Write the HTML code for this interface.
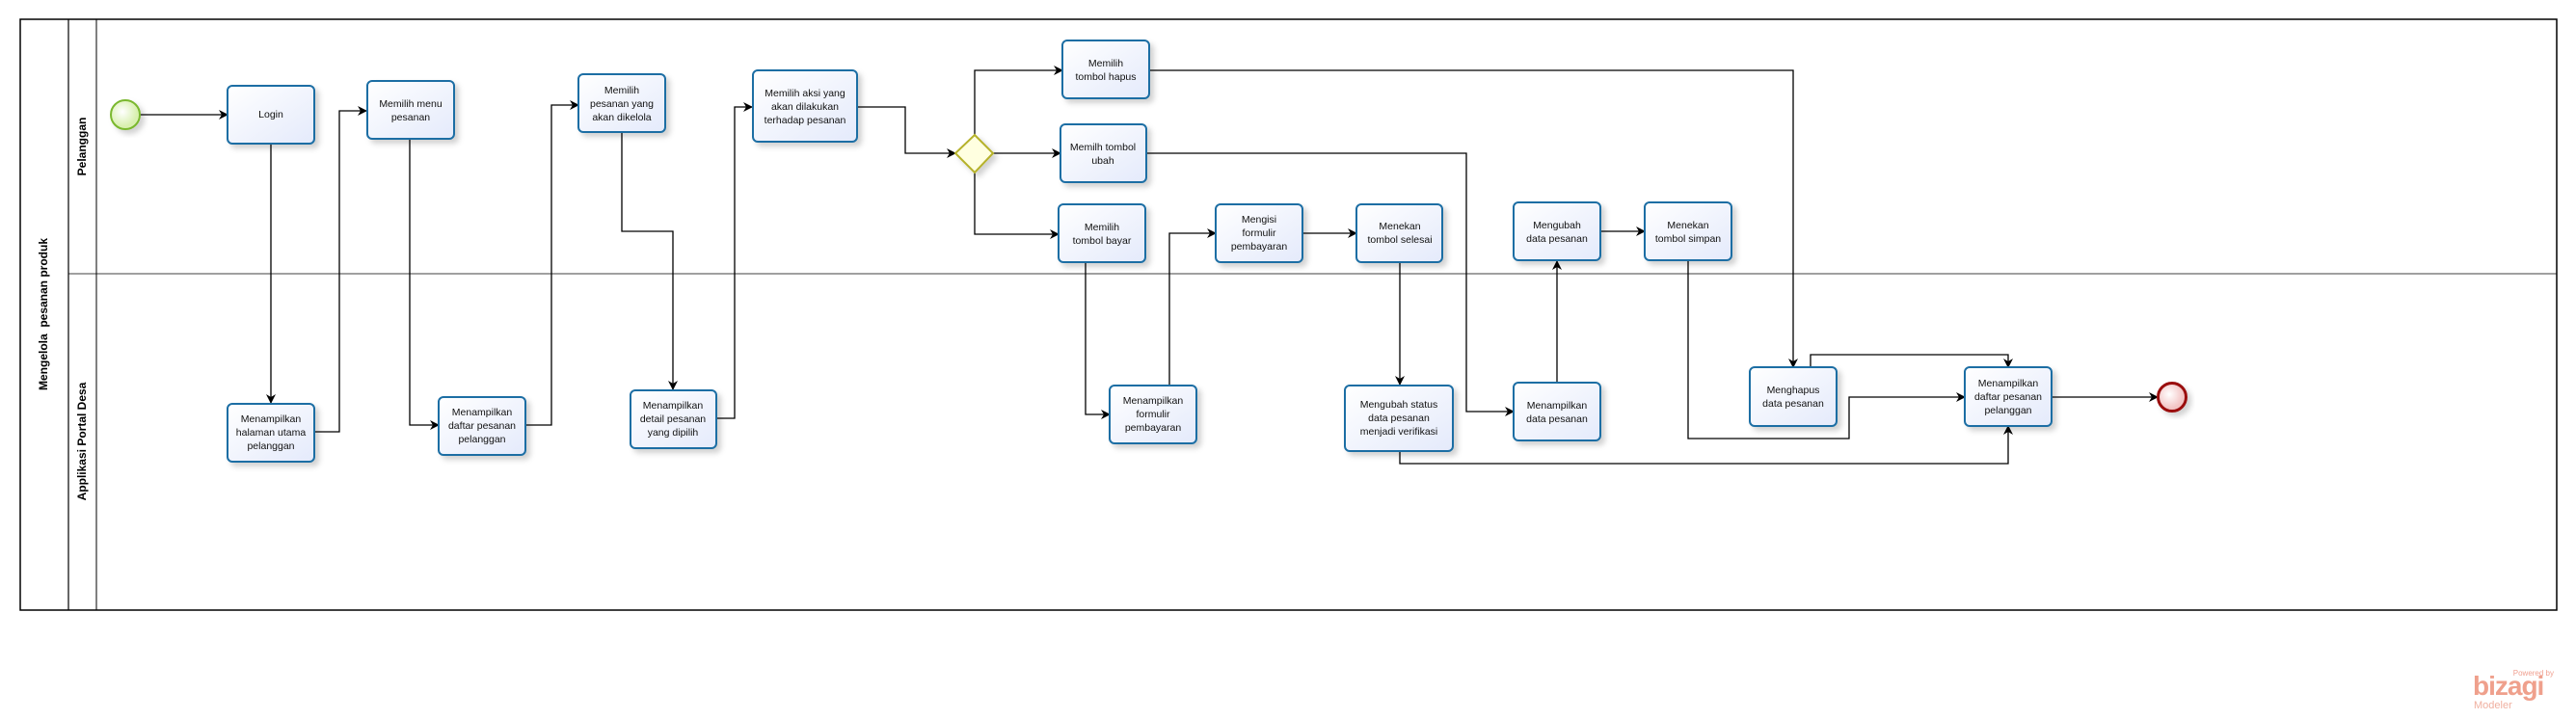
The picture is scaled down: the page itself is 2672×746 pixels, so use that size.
<!DOCTYPE html>
<html><head><meta charset="utf-8"><style>
html,body{margin:0;padding:0;background:#fff;width:2672px;height:746px;overflow:hidden}
svg{display:block}
text{font-family:"Liberation Sans",sans-serif}
.t{font-size:10.5px;fill:#111;text-anchor:middle}
.c{fill:none;stroke:#000;stroke-width:1.3}
.b{fill:url(#g);stroke:#1c6ea4;stroke-width:2}
</style></head><body>
<svg width="2672" height="746" viewBox="0 0 2672 746" xmlns="http://www.w3.org/2000/svg">
<defs>
<linearGradient id="g" x1="0" y1="0" x2="1" y2="1"><stop offset="0" stop-color="#ffffff"/><stop offset="1" stop-color="#e4eafb"/></linearGradient>
<radialGradient id="gs" cx="0.4" cy="0.4"><stop offset="0" stop-color="#ffffff"/><stop offset="1" stop-color="#d9f0b0"/></radialGradient>
<radialGradient id="ge" cx="0.4" cy="0.4"><stop offset="0" stop-color="#ffffff"/><stop offset="1" stop-color="#f2c4c4"/></radialGradient>
<marker id="a" markerWidth="10" markerHeight="10" refX="9" refY="5" orient="auto" markerUnits="userSpaceOnUse"><path d="M0,0 L10,5 L0,10 L3,5 z" fill="#000"/></marker>
<filter id="sh" x="-20%" y="-20%" width="150%" height="150%"><feDropShadow dx="4" dy="4" stdDeviation="3" flood-color="#000" flood-opacity="0.18"/></filter>
</defs>
<!-- pool -->
<rect x="21" y="20" width="2631" height="613" fill="none" stroke="#000" stroke-width="1.5"/>
<line x1="71" y1="20" x2="71" y2="633" stroke="#000" stroke-width="1.2"/>
<line x1="100" y1="20" x2="100" y2="633" stroke="#000" stroke-width="1"/>
<line x1="71" y1="284" x2="2652" y2="284" stroke="#000" stroke-width="0.8"/>
<text transform="translate(49,326) rotate(-90)" text-anchor="middle" font-size="12" font-weight="bold" xml:space="preserve">Mengelola  pesanan produk</text>
<text transform="translate(89,152) rotate(-90)" text-anchor="middle" font-size="12" font-weight="bold">Pelanggan</text>
<text transform="translate(89,458) rotate(-90)" text-anchor="middle" font-size="12" font-weight="bold">Applikasi Portal Desa</text>

<!-- connectors -->
<g class="c">
<path d="M145,119 H236" marker-end="url(#a)"/>
<path d="M281,149 V418" marker-end="url(#a)"/>
<path d="M326,448 H352 V115 H380" marker-end="url(#a)"/>
<path d="M425,144 V441 H455" marker-end="url(#a)"/>
<path d="M545,441 H572 V109 H600" marker-end="url(#a)"/>
<path d="M645,137 V240 H698 V404" marker-end="url(#a)"/>
<path d="M743,434 H762 V111 H780" marker-end="url(#a)"/>
<path d="M889,111 H939 V159 H991" marker-end="url(#a)"/>
<path d="M1011,140 V73 H1102" marker-end="url(#a)"/>
<path d="M1030,159 H1100" marker-end="url(#a)"/>
<path d="M1011,179 V243 H1098" marker-end="url(#a)"/>
<path d="M1126,273 V430 H1151" marker-end="url(#a)"/>
<path d="M1213,400 V242 H1261" marker-end="url(#a)"/>
<path d="M1351,242 H1407" marker-end="url(#a)"/>
<path d="M1452,272 V399" marker-end="url(#a)"/>
<path d="M1189,159 H1521 V427 H1570" marker-end="url(#a)"/>
<path d="M1615,397 V271" marker-end="url(#a)"/>
<path d="M1661,240 H1706" marker-end="url(#a)"/>
<path d="M1192,73 H1860 V381" marker-end="url(#a)"/>
<path d="M1751,271 V455 H1918 V412 H2038" marker-end="url(#a)"/>
<path d="M1878,381 V368 H2083 V381" marker-end="url(#a)"/>
<path d="M1452,468 V481 H2083 V442" marker-end="url(#a)"/>
<path d="M2128,412 H2238" marker-end="url(#a)"/>
</g>

<!-- events -->
<circle cx="130" cy="119" r="15" fill="url(#gs)" stroke="#7ab82e" stroke-width="2" filter="url(#sh)"/>
<circle cx="2253" cy="412" r="14.5" fill="url(#ge)" stroke="#9a0e0e" stroke-width="3" filter="url(#sh)"/>
<path d="M1011,140 L1030,159 L1011,179 L991,159 z" fill="#ffffe0" stroke="#b5b12a" stroke-width="2" filter="url(#sh)"/>

<!-- tasks -->
<g filter="url(#sh)">
<rect class="b" x="236" y="89" width="90" height="60" rx="5"/>
<rect class="b" x="381" y="84" width="90" height="60" rx="5"/>
<rect class="b" x="600" y="77" width="90" height="60" rx="5"/>
<rect class="b" x="781" y="73" width="108" height="74" rx="5"/>
<rect class="b" x="236" y="419" width="90" height="60" rx="5"/>
<rect class="b" x="455" y="412" width="90" height="60" rx="5"/>
<rect class="b" x="654" y="405" width="89" height="60" rx="5"/>
<rect class="b" x="1102" y="42" width="90" height="60" rx="5"/>
<rect class="b" x="1100" y="129" width="89" height="60" rx="5"/>
<rect class="b" x="1098" y="212" width="90" height="60" rx="5"/>
<rect class="b" x="1261" y="212" width="90" height="60" rx="5"/>
<rect class="b" x="1407" y="212" width="89" height="60" rx="5"/>
<rect class="b" x="1570" y="210" width="90" height="60" rx="5"/>
<rect class="b" x="1706" y="210" width="90" height="60" rx="5"/>
<rect class="b" x="1151" y="400" width="90" height="60" rx="5"/>
<rect class="b" x="1395" y="400" width="112" height="68" rx="5"/>
<rect class="b" x="1570" y="397" width="90" height="60" rx="5"/>
<rect class="b" x="1815" y="381" width="90" height="61" rx="5"/>
<rect class="b" x="2038" y="381" width="90" height="61" rx="5"/>
</g>

<g class="t">
<text x="281" y="122">Login</text>
<text x="426" y="111">Memilih menu</text><text x="426" y="125">pesanan</text>
<text x="645" y="97">Memilih</text><text x="645" y="111">pesanan yang</text><text x="645" y="125">akan dikelola</text>
<text x="835" y="100">Memilih aksi yang</text><text x="835" y="114">akan dilakukan</text><text x="835" y="128">terhadap pesanan</text>
<text x="281" y="438">Menampilkan</text><text x="281" y="452">halaman utama</text><text x="281" y="466">pelanggan</text>
<text x="500" y="431">Menampilkan</text><text x="500" y="445">daftar pesanan</text><text x="500" y="459">pelanggan</text>
<text x="698" y="424">Menampilkan</text><text x="698" y="438">detail pesanan</text><text x="698" y="452">yang dipilih</text>
<text x="1147" y="69">Memilih</text><text x="1147" y="83">tombol hapus</text>
<text x="1144" y="156">Memilh tombol</text><text x="1144" y="170">ubah</text>
<text x="1143" y="239">Memilih</text><text x="1143" y="253">tombol bayar</text>
<text x="1306" y="231">Mengisi</text><text x="1306" y="245">formulir</text><text x="1306" y="259">pembayaran</text>
<text x="1452" y="238">Menekan</text><text x="1452" y="252">tombol selesai</text>
<text x="1615" y="237">Mengubah</text><text x="1615" y="251">data pesanan</text>
<text x="1751" y="237">Menekan</text><text x="1751" y="251">tombol simpan</text>
<text x="1196" y="419">Menampilkan</text><text x="1196" y="433">formulir</text><text x="1196" y="447">pembayaran</text>
<text x="1451" y="423">Mengubah status</text><text x="1451" y="437">data pesanan</text><text x="1451" y="451">menjadi verifikasi</text>
<text x="1615" y="424">Menampilkan</text><text x="1615" y="438">data pesanan</text>
<text x="1860" y="408">Menghapus</text><text x="1860" y="422">data pesanan</text>
<text x="2083" y="401">Menampilkan</text><text x="2083" y="415">daftar pesanan</text><text x="2083" y="429">pelanggan</text>
</g>

<!-- logo -->
<text x="2649" y="701" text-anchor="end" font-size="8" fill="#f0a090">Powered by</text>
<text x="2565" y="721" font-size="28" font-weight="bold" fill="#efa08c" letter-spacing="-1">bizagi</text>
<text x="2566" y="735" font-size="11" fill="#f0b0a0">Modeler</text>
</svg>
</body></html>
